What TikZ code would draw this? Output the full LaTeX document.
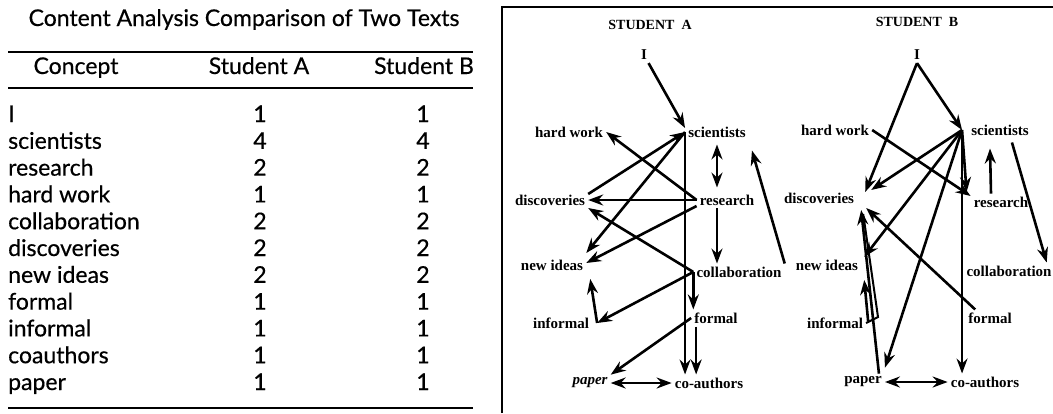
\documentclass[tikz,border=0pt]{standalone}
\usepackage{fontspec}
\setmainfont{Liberation Serif}
\newfontfamily\tabfont{Lato}[FakeBold=0.5]
\usetikzlibrary{arrows.meta}
\begin{document}
\begin{tikzpicture}[x=1pt,y=-1pt,
  lab/.style={font=\bfseries\fontsize{15}{17}\selectfont, inner sep=3pt},
  head/.style={font=\bfseries\fontsize{14}{16}\selectfont, inner sep=2pt},
  tab/.style={font=\tabfont\fontsize{23}{26}\selectfont, inner sep=0pt},
  tip/.tip={Stealth[length=15pt,width=11pt,inset=5pt]},
  arr/.style={line width=2.6pt, -tip},
  darr/.style={line width=2.6pt, tip-tip},
  thin/.style={line width=2pt, -tip},
  rule/.style={line width=1.6pt}]
\useasboundingbox (0,0) rectangle (1053,413);

% ---------------- table ----------------
\node[tab, anchor=base] (title) at (244,26) {Content Analysis Comparison of Two Texts};
\coordinate (r1l) at (8,52);  \coordinate (r1r) at (473,52);
\coordinate (r2l) at (8,88);  \coordinate (r2r) at (473,88);
\coordinate (r3l) at (8,408); \coordinate (r3r) at (473,408);
\draw[rule] (r1l) -- (r1r);
\draw[rule] (r2l) -- (r2r);
\draw[rule] (r3l) -- (r3r);
\node[tab, anchor=base] (hc) at (76,74) {Concept};
\node[tab, anchor=base] (ha) at (259,74) {Student A};
\node[tab, anchor=base] (hb) at (424,74) {Student B};
\foreach \name/\a/\b [count=\i] in {I/1/1, scientists/4/4, research/2/2, hard work/1/1,
  collaboration/2/2, discoveries/2/2, new ideas/2/2, formal/1/1, informal/1/1,
  coauthors/1/1, paper/1/1} {
  \pgfmathsetmacro{\yy}{122+26.8*(\i-1)}
  \node[tab, anchor=base west] (c\i) at (8,\yy) {\name};
  \node[tab, anchor=base] (a\i) at (260,\yy) {\a};
  \node[tab, anchor=base] (b\i) at (423,\yy) {\b};
}

% ---------------- frame ----------------
\coordinate (fbl) at (502,413); \coordinate (ftl) at (502,7); \coordinate (ftr) at (1053,7);
\draw[line width=1.8pt] (fbl) -- (ftl) -- (ftr);

% ---------------- Student A ----------------
\node[head] (headA) at (650,25) {STUDENT\ \ A};
\node[lab] (IA) at (644,55) {I};
\node[lab] (sciA) at (717,132) {scientists};
\node[lab] (hwA) at (569,132) {hard work};
\node[lab] (disA) at (550,200) {discoveries};
\node[lab] (resA) at (727,200) {research};
\node[lab] (niA) at (552,265) {new ideas};
\node[lab] (colA) at (739,272) {collaboration};
\node[lab] (infA) at (561,323) {informal};
\node[lab] (forA) at (716,318) {formal};
\node[lab, font=\bfseries\itshape\fontsize{15}{17}\selectfont] (papA) at (590,383) {paper};
\node[lab] (coaA) at (709,383) {co-authors};

\draw[arr] (IA) -- ([yshift=4pt]sciA.west);
\draw[arr] (resA.west) -- (hwA.east);
\draw[arr] ([yshift=6pt]disA.east) -- (sciA.west);
\draw[arr] (sciA.west) -- ([yshift=12pt]niA.east);
\draw[thin] (sciA.west) -- (sciA.west |- coaA.north);
\draw[darr] ([yshift=-4pt]sciA.south) -- ([yshift=4pt]sciA.south |- resA.north);
\draw[arr] (resA.west) -- (disA.east);
\draw[arr] ([yshift=-6pt]resA.west) -- ([yshift=2pt]niA.east);
\draw[arr] (colA.west) -- ([yshift=-8pt]disA.east);
\draw[thin] ([xshift=-10pt]resA.south) -- ([xshift=-10pt]resA.south |- colA.north);
\draw[arr] (colA.north east) -- ([xshift=3pt,yshift=-10pt]sciA.south east);
\draw[arr] (colA.west) -- ([xshift=5pt]infA.east);
\draw[arr] ([xshift=5pt]infA.east) -- ([xshift=4pt,yshift=-14pt]niA.east);
\draw[arr] (colA.west) -- (colA.west |- forA.north);
\draw[arr] ([xshift=5pt]forA.south west) -- ([xshift=5pt]forA.south west |- coaA.north);
\draw[arr] (forA.west) -- (papA.north east);
\draw[darr] (papA.east) -- (coaA.west);

% ---------------- Student B ----------------
\node[head] (headB) at (917,22) {STUDENT\ \ B};
\node[lab] (IB) at (917,55) {I};
\node[lab] (hwB) at (835,130) {hard work};
\node[lab] (sciB) at (1000,130) {scientists};
\node[lab] (disB) at (819,198) {discoveries};
\node[lab] (resB) at (1001,202) {research};
\node[lab] (niB) at (827,265) {new ideas};
\node[lab, inner sep=1pt] (colB) at (1009,271) {collaboration};
\node[lab] (infB) at (835,323) {informal};
\node[lab] (forB) at (990,318) {formal};
\node[lab] (papB) at (863,382) {paper};
\node[lab] (coaB) at (985,382) {co-authors};
\coordinate (sciBh) at ([xshift=-6pt]sciB.west);
\coordinate (infBk) at (878,317);

\draw[arr] (IB.south) -- ([xshift=8pt,yshift=6pt]disB.east);
\draw[arr] (IB.south) -- (sciBh);
\draw[arr] (hwB.east) -- ([yshift=6pt]resB.west);
\draw[arr] (sciBh) -- ([xshift=14pt,yshift=8pt]disB.east);
\draw[arr] (sciBh) -- ([xshift=-4pt,yshift=10pt]resB.west);
\draw[arr] ([xshift=-10pt]resB.north) -- ([xshift=-10pt,yshift=-10pt]sciB.south);
\draw[arr] ([xshift=-20pt,yshift=-4pt]sciB.south east) -- ([xshift=-6pt,yshift=2pt]colB.north east);
\draw[arr] ([xshift=10pt]forB.north west) -- ([xshift=9pt,yshift=-10pt]disB.east);
\draw[arr] ([xshift=-6pt]papB.north east) -- ([xshift=4pt,yshift=-12pt]disB.east);
\draw[arr] (sciBh) -- ([xshift=3pt,yshift=8pt]niB.east);
\draw[arr] (sciBh) -- ([yshift=6pt]papB.north east);
\draw[thin] (sciBh) -- (sciBh |- coaB.north);
\draw[darr] (papB.east) -- (coaB.west);
\draw[arr] ([xshift=2pt,yshift=2pt]infB.east) -- ([xshift=3pt,yshift=-15pt]niB.east);
\draw[line width=2pt] (infB.east) -- (infBk) -- ([xshift=6pt,yshift=-16pt]disB.east);
\end{tikzpicture}
\end{document}
